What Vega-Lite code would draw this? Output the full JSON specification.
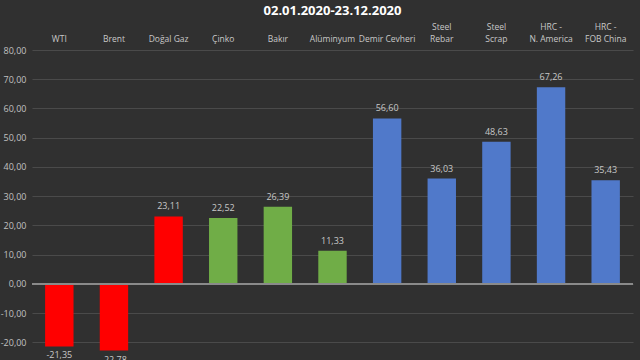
{
  "$schema": "https://vega.github.io/schema/vega-lite/v6.json",
  "autosize": "none",
  "width": 601,
  "height": 310,
  "padding": {"left": 32, "top": 50, "right": 7, "bottom": 0},
  "background": "#303030",
  "config": {
    "locale": {"number": {"decimal": ",", "thousands": ".", "grouping": [3], "currency": ["", ""], "minus": "-"}},
    "view": {"stroke": null},
    "font": "Open Sans"
  },
  "title": {
    "text": "02.01.2020-23.12.2020",
    "color": "#ffffff",
    "fontSize": 13,
    "fontWeight": "bold",
    "font": "Open Sans",
    "anchor": "middle",
    "offset": 4
  },
  "data": {
    "values": [
      {"name": "\nWTI", "group": "Enerji", "value": -21.35},
      {"name": "\nBrent", "group": "Enerji", "value": -22.78},
      {"name": "\nDoğal Gaz", "group": "Enerji", "value": 23.11},
      {"name": "\nÇinko", "group": "Metal", "value": 22.52},
      {"name": "\nBakır", "group": "Metal", "value": 26.39},
      {"name": "\nAlüminyum", "group": "Metal", "value": 11.33},
      {"name": "\nDemir Cevheri", "group": "Çelik", "value": 56.60},
      {"name": "Steel\nRebar", "group": "Çelik", "value": 36.03},
      {"name": "Steel\nScrap", "group": "Çelik", "value": 48.63},
      {"name": "HRC -\nN. America", "group": "Çelik", "value": 67.26},
      {"name": "HRC -\nFOB China", "group": "Çelik", "value": 35.43}
    ]
  },
  "encoding": {
    "x": {
      "field": "name",
      "type": "nominal",
      "sort": null,
      "scale": {"paddingInner": 0.48, "paddingOuter": 0.24},
      "axis": {
        "orient": "top",
        "title": null,
        "labelAngle": 0,
        "labelColor": "#c8c8c8",
        "labelFontSize": 8.5,
        "labelFont": "Open Sans",
        "labelPadding": 19,
        "labelLineHeight": 12,
        "labelBaseline": "bottom",
        "labelExpr": "split(datum.value, '\\n')",
        "ticks": false,
        "domain": false
      }
    },
    "y": {
      "field": "value",
      "type": "quantitative",
      "scale": {"domain": [-26, 80], "nice": false, "zero": false},
      "axis": {
        "title": null,
        "values": [-20, -10, 0, 10, 20, 30, 40, 50, 60, 70, 80],
        "format": ".2f",
        "labelColor": "#c0c0c0",
        "labelFontSize": 9,
        "labelFont": "Open Sans",
        "labelPadding": 6,
        "ticks": false,
        "domain": false,
        "grid": true,
        "gridColor": "#4a4a4a",
        "gridWidth": 1
      }
    }
  },
  "layer": [
    {
      "mark": {"type": "bar"},
      "encoding": {
        "color": {
          "field": "group",
          "type": "nominal",
          "scale": {"domain": ["Enerji", "Metal", "Çelik"], "range": ["#ff0000", "#70ad47", "#5079ca"]},
          "legend": null
        }
      }
    },
    {
      "mark": {"type": "rule", "color": "#8a8a8a", "strokeWidth": 2},
      "encoding": {"y": {"datum": 0}, "x": null}
    },
    {
      "transform": [{"filter": "datum.value >= 0"}],
      "mark": {"type": "text", "color": "#c8c8c8", "fontSize": 9, "font": "Open Sans", "baseline": "bottom", "dy": -5},
      "encoding": {
        "text": {"field": "value", "type": "quantitative", "format": ".2f"}
      }
    },
    {
      "transform": [{"filter": "datum.value < 0"}],
      "mark": {"type": "text", "color": "#c8c8c8", "fontSize": 9, "font": "Open Sans", "baseline": "top", "dy": 5},
      "encoding": {
        "text": {"field": "value", "type": "quantitative", "format": ".2f"}
      }
    }
  ]
}
